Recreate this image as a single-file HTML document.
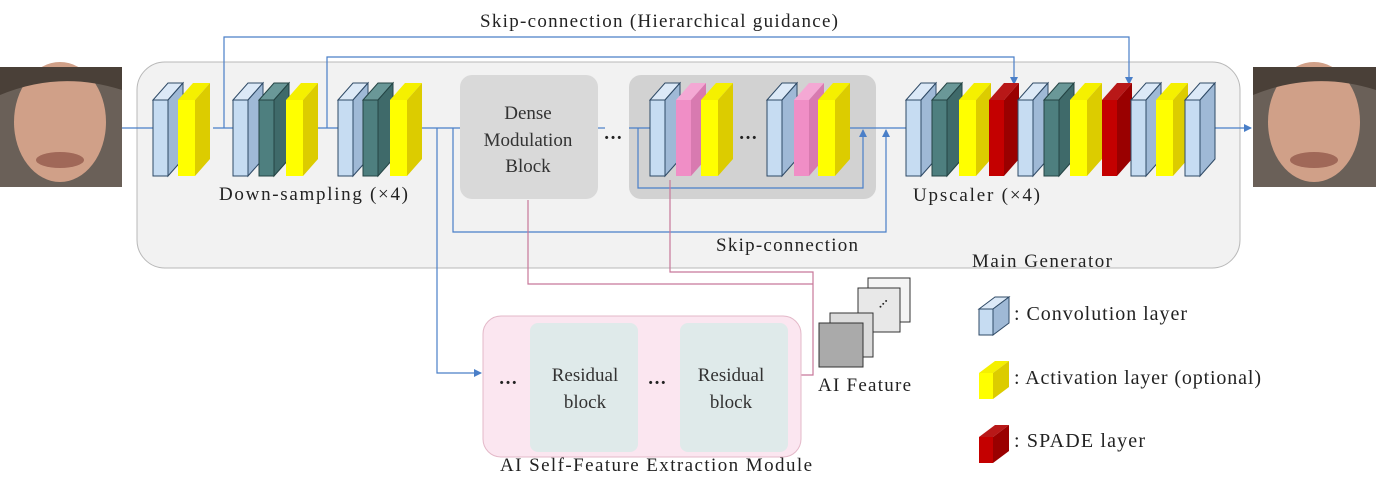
<!DOCTYPE html>
<html><head><meta charset="utf-8"><style>
html,body{margin:0;padding:0;background:#fff;}
svg{display:block;}
text{font-family:"Liberation Serif","Times New Roman",Times,serif;}
</style></head><body>
<svg width="1376" height="491" viewBox="0 0 1376 491" xmlns="http://www.w3.org/2000/svg" font-family="Liberation Serif, Times New Roman, serif">
<defs>
<g id="conv"><polygon points="0,17 15,0 30,0 15,17" fill="#dce9f7" stroke="#2f4a66" stroke-width="1"/><polygon points="15,17 30,0 30,76 15,93" fill="#9fb9d6" stroke="#2f4a66" stroke-width="1"/><rect x="0" y="17" width="15" height="76" fill="#c6dcf2" stroke="#2f4a66" stroke-width="1"/></g>
<g id="teal"><polygon points="0,17 15,0 30,0 15,17" fill="#6a9898" stroke="#244444" stroke-width="1"/><polygon points="15,17 30,0 30,76 15,93" fill="#3f6a6a" stroke="#244444" stroke-width="1"/><rect x="0" y="17" width="15" height="76" fill="#4e7f7f" stroke="#244444" stroke-width="1"/></g>
<g id="yel"><polygon points="0,17 15,0 32,0 17,17" fill="#f5f000"/><polygon points="17,17 32,0 32,76 17,93" fill="#dccc00"/><rect x="0" y="17" width="17" height="76" fill="#ffff00"/></g>
<g id="red"><polygon points="0,17 15,0 30,0 15,17" fill="#b81818"/><polygon points="15,17 30,0 30,76 15,93" fill="#9a0000"/><rect x="0" y="17" width="15" height="76" fill="#c40000"/></g>
<g id="pink"><polygon points="0,17 15,0 30,0 15,17" fill="#f4a8d4"/><polygon points="15,17 30,0 30,76 15,93" fill="#d87ab0"/><rect x="0" y="17" width="15" height="76" fill="#f08ec6"/></g>
<marker id="ab" markerWidth="8" markerHeight="8" refX="7" refY="4" orient="auto" markerUnits="userSpaceOnUse"><path d="M0,0 L8,4 L0,8 z" fill="#4a7fc8"/></marker>
</defs>

<!-- faces -->
<rect x="0" y="67" width="122" height="120" fill="#6a6058"/>
<ellipse cx="60" cy="122" rx="46" ry="60" fill="#d0a088"/>
<path d="M0,67 H122 V90 Q60,70 0,95 Z" fill="#4a4038"/>
<ellipse cx="60" cy="160" rx="24" ry="8" fill="#a06858"/>
<rect x="1253" y="67" width="123" height="120" fill="#6a6058"/>
<ellipse cx="1314" cy="122" rx="46" ry="60" fill="#d0a088"/>
<path d="M1253,67 H1376 V90 Q1314,70 1253,95 Z" fill="#4a4038"/>
<ellipse cx="1314" cy="160" rx="24" ry="8" fill="#a06858"/>

<!-- main container -->
<rect x="137" y="62" width="1103" height="206" rx="28" fill="#f2f2f2" stroke="#b8b8b8" stroke-width="1"/>
<rect x="460" y="75" width="138" height="124" rx="12" fill="#d9d9d9"/>
<rect x="629" y="75" width="247" height="124" rx="12" fill="#d2d2d2"/>

<!-- blue lines -->
<g fill="none" stroke="#4a7fc8" stroke-width="1.2">
<line x1="122" y1="128" x2="153" y2="128"/>
<polyline points="224,128 224,37 1129,37 1129,84" marker-end="url(#ab)"/>
<polyline points="327,128 327,57 1014,57 1014,84" marker-end="url(#ab)"/>
<line x1="213" y1="128" x2="233" y2="128"/>
<line x1="316" y1="128" x2="338" y2="128"/>
<line x1="422" y1="128" x2="460" y2="128"/>
<polyline points="437,128 437,373 481,373" marker-end="url(#ab)"/>
<polyline points="453,128 453,232 886,232 886,130" marker-end="url(#ab)"/>
<line x1="598" y1="128" x2="605" y2="128"/>
<line x1="629" y1="128" x2="650" y2="128"/>
<polyline points="638,128 638,188 863,188 863,130" marker-end="url(#ab)"/>
<line x1="850" y1="128" x2="906" y2="128"/>
<line x1="1215" y1="128" x2="1251" y2="128" marker-end="url(#ab)"/>
</g>

<!-- pink lines -->
<g fill="none" stroke="#c8789a" stroke-width="1.2">
<polyline points="528,200 528,284 813,284"/>
<polyline points="670,180 670,272 813,272 813,375 790,375"/>
</g>

<!-- blocks -->
<use href="#conv" x="153" y="83"/><use href="#yel" x="178" y="83"/>
<use href="#conv" x="233" y="83"/><use href="#teal" x="259" y="83"/><use href="#yel" x="286" y="83"/>
<use href="#conv" x="338" y="83"/><use href="#teal" x="363" y="83"/><use href="#yel" x="390" y="83"/>
<use href="#conv" x="650" y="83"/><use href="#pink" x="676" y="83"/><use href="#yel" x="701" y="83"/>
<use href="#conv" x="767" y="83"/><use href="#pink" x="794" y="83"/><use href="#yel" x="818" y="83"/>
<use href="#conv" x="906" y="83"/><use href="#teal" x="932" y="83"/><use href="#yel" x="959" y="83"/><use href="#red" x="989" y="83"/>
<use href="#conv" x="1018" y="83"/><use href="#teal" x="1044" y="83"/><use href="#yel" x="1070" y="83"/><use href="#red" x="1102" y="83"/>
<use href="#conv" x="1131" y="83"/><use href="#yel" x="1156" y="83"/><use href="#conv" x="1185" y="83"/>

<g font-size="19" fill="#222">
<text x="480" y="27" textLength="358">Skip-connection (Hierarchical guidance)</text>
<text x="528" y="119" text-anchor="middle" fill="#333">Dense</text>
<text x="528" y="146" text-anchor="middle" fill="#333">Modulation</text>
<text x="528" y="172" text-anchor="middle" fill="#333">Block</text>
<text x="613" y="144" text-anchor="middle" font-weight="bold">···</text>
<text x="748" y="144" text-anchor="middle" font-weight="bold">···</text>
<text x="219" y="200" textLength="189">Down-sampling (×4)</text>
<text x="913" y="201" textLength="127">Upscaler (×4)</text>
<text x="716" y="251" textLength="142">Skip-connection</text>
<text x="972" y="267" textLength="140">Main Generator</text>
</g>

<!-- AI module -->
<rect x="483" y="316" width="318" height="141" rx="18" fill="#fbe6f0" stroke="#e3b8c8" stroke-width="1"/>
<rect x="530" y="323" width="108" height="129" rx="8" fill="#dfeaea"/>
<rect x="680" y="323" width="108" height="129" rx="8" fill="#dfeaea"/>
<g font-size="19" fill="#333">
<text x="585" y="381" text-anchor="middle">Residual</text>
<text x="585" y="408" text-anchor="middle">block</text>
<text x="731" y="381" text-anchor="middle">Residual</text>
<text x="731" y="408" text-anchor="middle">block</text>
<text x="508" y="389" text-anchor="middle" font-weight="bold" fill="#222">···</text>
<text x="657" y="389" text-anchor="middle" font-weight="bold" fill="#222">···</text>
<text x="500" y="471" fill="#222" textLength="312">AI Self-Feature Extraction Module</text>
<text x="818" y="391" fill="#222" textLength="93">AI Feature</text>
</g>

<!-- AI feature stack -->
<rect x="868" y="278" width="42" height="44" fill="#f4f4f4" stroke="#333" stroke-width="1"/>
<rect x="858" y="288" width="42" height="44" fill="#e8e8e8" stroke="#333" stroke-width="1"/>
<text x="879" y="312" font-size="12" font-weight="bold" fill="#222" transform="rotate(-45 879 308)">···</text>
<rect x="830" y="313" width="43" height="44" fill="#dcdcdc" stroke="#333" stroke-width="1"/>
<rect x="819" y="323" width="44" height="44" fill="#aaaaaa" stroke="#333" stroke-width="1"/>

<!-- legend -->
<g transform="translate(979,297)">
<polygon points="0,12 16,0 30,0 14,12" fill="#dce9f7" stroke="#2f4a66"/><polygon points="14,12 30,0 30,26 14,38" fill="#9fb9d6" stroke="#2f4a66"/><rect x="0" y="12" width="14" height="26" fill="#c6dcf2" stroke="#2f4a66"/>
</g>
<g transform="translate(979,361)">
<polygon points="0,12 16,0 30,0 14,12" fill="#f5f000"/><polygon points="14,12 30,0 30,26 14,38" fill="#dccc00"/><rect x="0" y="12" width="14" height="26" fill="#ffff00"/>
</g>
<g transform="translate(979,425)">
<polygon points="0,12 16,0 30,0 14,12" fill="#b81818"/><polygon points="14,12 30,0 30,26 14,38" fill="#9a0000"/><rect x="0" y="12" width="14" height="26" fill="#c40000"/>
</g>
<g font-size="20" fill="#222">
<text x="1014" y="320" textLength="173">: Convolution layer</text>
<text x="1014" y="384" textLength="247">: Activation layer (optional)</text>
<text x="1014" y="447" textLength="131">: SPADE layer</text>
</g>
</svg>
</body></html>
